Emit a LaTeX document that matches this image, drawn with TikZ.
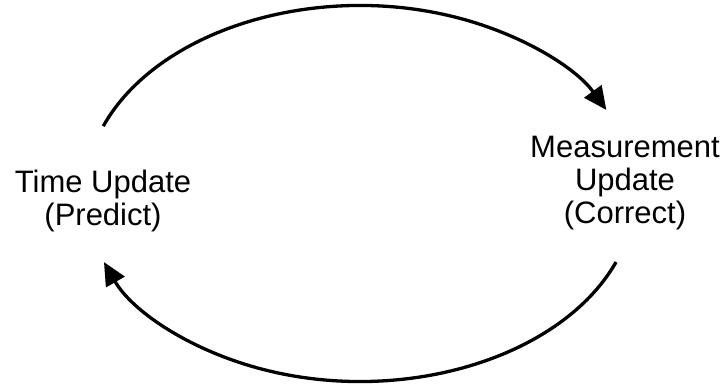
\documentclass[tikz,border=0pt]{standalone}
\usepackage{fontspec}
\setmainfont{Liberation Sans}
\usetikzlibrary{arrows.meta}
\begin{document}
\begin{tikzpicture}[x=1pt,y=1pt,
  lbl/.style={align=center,inner sep=0pt,anchor=base,font=\fontsize{31}{33}\selectfont},
  cyc/.style={line width=3.3pt,-{Triangle[length=23pt,width=21pt]}}]
\useasboundingbox (0,0) rectangle (728,389);
\node[lbl] (time) at (103,164) {Time Update\\(Predict)};
\node[lbl] (meas) at (625,166) {Measurement\\Update\\(Correct)};
\coordinate (c) at (360,195.5);
\draw[cyc] (c) ++(159:275 and 188) coordinate (ts)
  arc[start angle=159,end angle=26.4,x radius=275,y radius=188] coordinate (te);
\draw[cyc] (c) ++(-21.4:275 and 188) coordinate (bs)
  arc[start angle=-21.4,end angle=-158.6,x radius=275,y radius=188] coordinate (be);
\end{tikzpicture}
\end{document}
